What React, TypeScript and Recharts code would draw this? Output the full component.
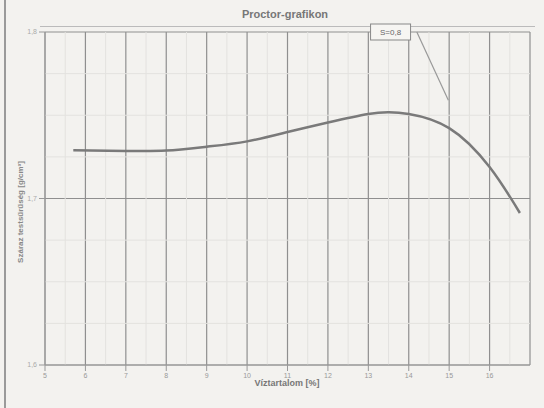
import { LineChart, Line, XAxis, YAxis, CartesianGrid, ReferenceLine, ReferenceDot } from 'recharts'

const moisture = [5.7, 7, 8, 9, 10, 11, 12, 13, 13.5, 14, 15, 16, 16.75]
const density = [1.729, 1.7286, 1.7288, 1.7311, 1.7343, 1.7399, 1.7457, 1.7508, 1.7518, 1.7508, 1.7423, 1.7189, 1.6913]
const xTicks = [5, 6, 7, 8, 9, 10, 11, 12, 13, 14, 15, 16]
const yTicks = [1.6, 1.7, 1.8]
const minorX = [5.5, 6.5, 7.5, 8.5, 9.5, 10.5, 11.5, 12.5, 13.5, 14.5, 15.5, 16.5]
const minorY = [1.625, 1.65, 1.675, 1.725, 1.75, 1.775]

const data = moisture.map((m, i) => ({ m, d: density[i] }))

const AnnotationBox = (props: any) => {
  const { cx, cy } = props
  return (
    <g>
      <rect x={cx - 20} y={cy - 8} width={40} height={16} fill="#f6f5f2" stroke="#888" strokeWidth={1} />
      <text x={cx} y={cy + 3} fontSize={8} fill="#666" textAnchor="middle">S=0,8</text>
    </g>
  )
}

export default function App() {
  return (
    <div style={{ position: 'absolute', left: 0, top: 0, width: 544, height: 408, background: '#f3f2ef', fontFamily: 'Arial, sans-serif' }}>
      <div style={{ position: 'absolute', left: 4, top: 0, width: 2, height: 408, background: '#9a9a9a' }} />
      <div style={{ position: 'absolute', left: 0, top: 8, width: 544, textAlign: 'center', fontSize: 11, fontWeight: 'bold', color: '#777', paddingLeft: 26, boxSizing: 'border-box' }}>
        Proctor-grafikon
      </div>
      <div style={{ position: 'absolute', left: 40, top: 26, width: 495, height: 1, background: '#bbb' }} />
      <div style={{ position: 'absolute', left: 20, top: 212, width: 0, height: 0 }}>
        <div style={{ position: 'absolute', transform: 'translate(-50%, -50%) rotate(-90deg)', whiteSpace: 'nowrap', fontSize: 8, fontWeight: 'bold', color: '#888' }}>
          Száraz testsűrűség [g/cm³]
        </div>
      </div>
      <div style={{ position: 'absolute', left: 0, top: 378, width: 544, textAlign: 'center', fontSize: 9, fontWeight: 'bold', color: '#777', paddingLeft: 30, boxSizing: 'border-box' }}>
        Víztartalom [%]
      </div>
      <LineChart
        width={544}
        height={408}
        data={data}
        margin={{ top: 32, right: 14, bottom: 18, left: 8 }}
        style={{ position: 'absolute', left: 0, top: 0 }}
      >
        <CartesianGrid stroke="#8f8f8f" strokeWidth={1.2} />
        {minorX.map(v => (
          <ReferenceLine key={'mx' + v} x={v} stroke="#e3e2df" strokeWidth={1} />
        ))}
        {minorY.map(v => (
          <ReferenceLine key={'my' + v} y={v} stroke="#e3e2df" strokeWidth={1} />
        ))}
        <XAxis
          dataKey="m"
          type="number"
          domain={[5, 17]}
          ticks={xTicks}
          tick={{ fontSize: 7, fill: '#999' }}
          tickFormatter={v => String(v)}
          stroke="#999"
          height={25}
          tickMargin={2}
          interval={0}
        />
        <YAxis
          type="number"
          domain={[1.6, 1.8]}
          ticks={yTicks}
          tick={{ fontSize: 7, fill: '#aaa' }}
          tickFormatter={v => v.toFixed(1).replace('.', ',')}
          stroke="#999"
          width={37}
        />
        <ReferenceLine
          segment={[{ x: 14.2, y: 1.8 }, { x: 14.98, y: 1.759 }]}
          stroke="#999"
          strokeWidth={1.2}
          ifOverflow="visible"
        />
        <ReferenceDot x={13.55} y={1.8} ifOverflow="visible" shape={AnnotationBox} />
        <Line
          type="natural"
          dataKey="d"
          stroke="#7a7a7a"
          strokeWidth={2.5}
          dot={false}
          isAnimationActive={false}
        />
      </LineChart>
    </div>
  )
}
